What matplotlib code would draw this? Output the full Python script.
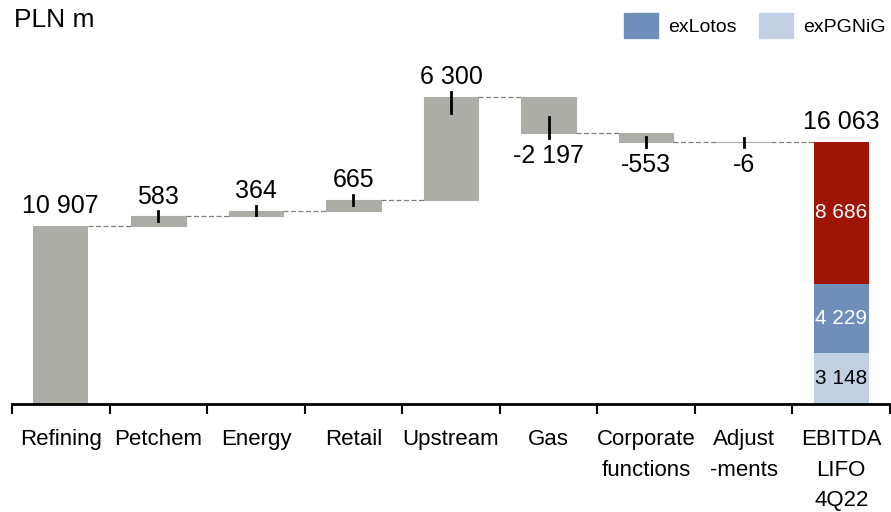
import matplotlib
matplotlib.use("Agg")
import matplotlib.pyplot as plt
from matplotlib import font_manager
from matplotlib.patches import Rectangle
import numpy as np

# pick a narrow sans if there is one
names = {f.name for f in font_manager.fontManager.ttflist}
if "Liberation Sans Narrow" in names:
    plt.rcParams["font.family"] = ["Liberation Sans Narrow", "DejaVu Sans"]
else:
    plt.rcParams["font.family"] = ["Liberation Sans", "DejaVu Sans"]

categories = ["Refining", "Petchem", "Energy", "Retail", "Upstream", "Gas",
              "Corporate\nfunctions", "Adjust\n-ments", "EBITDA\nLIFO\n4Q22"]
start_value = 10907
changes = [583, 364, 665, 6300, -2197, -553, -6]
total = 16063
total_parts = [3148, 4229, 8686]
part_colors = ["#c3cfe2", "#6f8fba", "#9e1405"]
part_text = ["black", "white", "white"]
legend_names = ["exLotos", "exPGNiG"]
legend_colors = ["#6f8fba", "#c3cfe2"]

grey = "#adada8"

def fmt(v):
    s = "{:,}".format(abs(v)).replace(",", " ")
    return ("-" if v < 0 else "") + s

fig = plt.figure(figsize=(8.91, 5.12), dpi=100)
px_per_unit = 0.01632
ax = fig.add_axes([12 / 891, 108 / 512, 878 / 891, 404 / 512])
ax.set_xlim(-0.5, -0.5 + 878 / 98.25)
ax.set_ylim(0, 404 / px_per_unit)
px = 1 / px_per_unit  # data units per pixel

w = 0.56
x = np.arange(len(categories))
vfs = 18

# first bar
ax.bar(x[0], start_value, width=w, color=grey)
ax.annotate(fmt(start_value), (x[0], start_value), xytext=(0, 9), textcoords="offset points",
            ha="center", va="baseline", fontsize=vfs)

level = start_value
for i, c in enumerate(changes, start=1):
    prev = level
    level = prev + c
    lo, hi = min(prev, level), max(prev, level)
    ax.bar(x[i], hi - lo, bottom=lo, width=w, color=grey, edgecolor=grey, linewidth=0.8)
    # connector from previous bar
    ax.plot([x[i - 1] + w / 2, x[i] - w / 2], [prev, prev], ls=(0, (4, 2)), color="#7f7f7f", lw=0.9)
    h = hi - lo
    inner = min(16 * px, max(4 * px, 0.5 * h))
    if c >= 0:
        ax.plot([x[i], x[i]], [hi - inner, hi + 5 * px], color="black", lw=2)
        ax.annotate(fmt(c), (x[i], hi), xytext=(0, 9), textcoords="offset points",
                    ha="center", va="baseline", fontsize=vfs)
    else:
        ax.plot([x[i], x[i]], [lo + inner, lo - 5 * px], color="black", lw=2)
        ax.annotate(fmt(c), (x[i], lo), xytext=(0, -8), textcoords="offset points",
                    ha="center", va="top", fontsize=vfs)

# total stacked bar
last = len(categories) - 1
ax.plot([x[last - 1] + w / 2, x[last] - w / 2], [level, level], ls=(0, (4, 2)), color="#7f7f7f", lw=0.9)
bottom = 0
for v, col, tc in zip(total_parts, part_colors, part_text):
    ax.bar(x[last], v, bottom=bottom, width=w, color=col)
    ax.text(x[last], bottom + v / 2, fmt(v), ha="center", va="center", fontsize=15, color=tc)
    bottom += v
ax.annotate(fmt(total), (x[last], total), xytext=(0, 9), textcoords="offset points",
            ha="center", va="baseline", fontsize=vfs)

# axis styling
for s in ["top", "right", "left"]:
    ax.spines[s].set_visible(False)
ax.spines["bottom"].set_linewidth(2)
ax.set_yticks([])
ax.set_xticks(np.arange(len(categories) + 1) - 0.5)
ax.set_xticklabels([""] * (len(categories) + 1))
ax.tick_params(axis="x", length=7, width=1.5, direction="out")
for i, lab in enumerate(categories):
    ax.text(x[i], -25 * px, lab, ha="center", va="top", fontsize=16, linespacing=1.6)

fig.text(14 / 891, 1 - 8 / 512, "PLN m", ha="left", va="top", fontsize=19)

# legend in top right
lx = [624, 759]
for name, col, x0 in zip(legend_names, legend_colors, lx):
    fig.patches.append(Rectangle((x0 / 891, 1 - 38 / 512), 34 / 891, 25 / 512,
                                 transform=fig.transFigure, color=col))
    fig.text((x0 + 44) / 891, 1 - 27 / 512, name, ha="left", va="center", fontsize=14)

fig.savefig("out.png", dpi=100)
